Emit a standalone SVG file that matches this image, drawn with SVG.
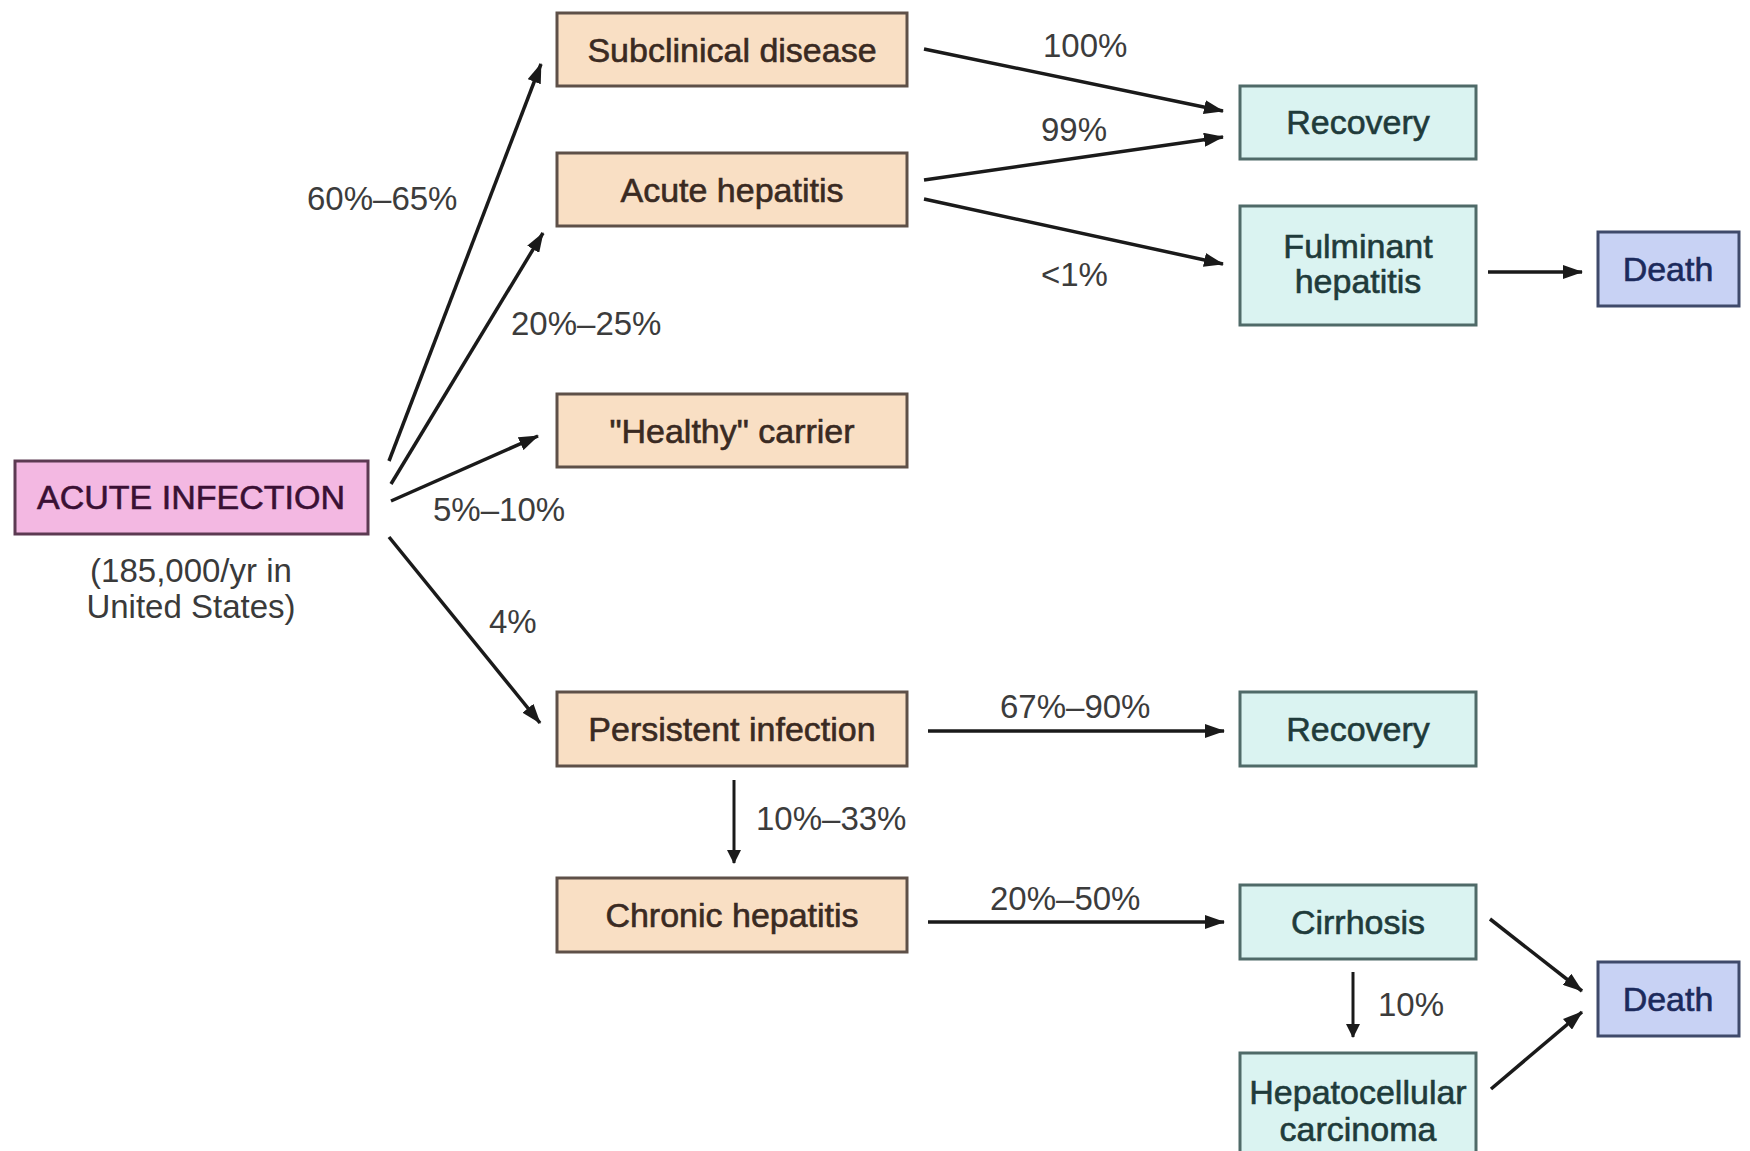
<svg xmlns="http://www.w3.org/2000/svg" width="1750" height="1151" viewBox="0 0 1750 1151">
<defs>
<marker id="ah" viewBox="0 0 20 14" refX="19" refY="7" markerWidth="20" markerHeight="14" markerUnits="userSpaceOnUse" orient="auto">
<path d="M0,0 L20,7 L0,14 z" fill="#1a1a1a"/>
</marker>
<marker id="ahs" viewBox="0 0 14 14" refX="13" refY="7" markerWidth="16" markerHeight="14" markerUnits="userSpaceOnUse" orient="auto">
<path d="M0,0 L14,7 L0,14 z" fill="#1a1a1a"/>
</marker>
</defs>
<style>
text{font-family:"Liberation Sans",Arial,sans-serif;}
.n text{font-size:34px;text-anchor:middle;stroke-width:0.6;}
.o rect{fill:#f9dfc4;stroke:#5e5048;stroke-width:3;}
.o text{fill:#3a2a22;stroke:#3a2a22;}
.c rect{fill:#daf3f1;stroke:#4f6a68;stroke-width:3;}
.c text{fill:#1f3b3b;stroke:#1f3b3b;}
.d rect{fill:#c8d2f4;stroke:#3f4a6a;stroke-width:3;}
.d text{fill:#1c2a5c;stroke:#1c2a5c;}
.p rect{fill:#f3b8e2;stroke:#5c3a52;stroke-width:3;}
.p text{fill:#3a1034;stroke:#3a1034;}
.lbl{font-size:33px;fill:#3c3c3c;}
.sub{font-size:33px;fill:#3a3a3a;text-anchor:middle;}
#connectors line{stroke:#1a1a1a;stroke-width:3.5;marker-end:url(#ah);}
#connectors line.thin{stroke-width:3;marker-end:url(#ahs);}
</style>
<rect width="1750" height="1151" fill="#ffffff"/>

<g id="connectors">
<line x1="389" y1="461" x2="541" y2="64"/>
<line x1="391" y1="484" x2="543" y2="233"/>
<line x1="391" y1="501" x2="538" y2="436"/>
<line x1="389" y1="537" x2="540" y2="723"/>
<line x1="924" y1="49" x2="1223" y2="111"/>
<line x1="924" y1="180" x2="1223" y2="137"/>
<line x1="924" y1="199" x2="1223" y2="264"/>
<line x1="1488" y1="272" x2="1582" y2="272"/>
<line x1="928" y1="731" x2="1224" y2="731"/>
<line x1="928" y1="922" x2="1224" y2="922"/>
<line x1="1490" y1="919" x2="1582" y2="991"/>
<line x1="1491" y1="1089" x2="1582" y2="1012"/>
<line class="thin" x1="734" y1="780" x2="734" y2="863"/>
<line class="thin" x1="1353" y1="972" x2="1353" y2="1037"/>
</g>

<g id="labels">
<text class="lbl" x="307" y="210">60%–65%</text>
<text class="lbl" x="511" y="335">20%–25%</text>
<text class="lbl" x="433" y="521">5%–10%</text>
<text class="lbl" x="489" y="633">4%</text>
<text class="lbl" x="1043" y="57">100%</text>
<text class="lbl" x="1041" y="141">99%</text>
<text class="lbl" x="1041" y="286">&lt;1%</text>
<text class="lbl" x="1000" y="718">67%–90%</text>
<text class="lbl" x="990" y="910">20%–50%</text>
<text class="lbl" x="756" y="830">10%–33%</text>
<text class="lbl" x="1378" y="1016">10%</text>
</g>

<g id="acute-infection" class="n p">
<rect x="15" y="461" width="353" height="73"/>
<text x="191" y="509">ACUTE INFECTION</text>
</g>
<text class="sub" x="191" y="582">(185,000/yr in</text>
<text class="sub" x="191" y="618">United States)</text>

<g id="subclinical" class="n o">
<rect x="557" y="13" width="350" height="73"/>
<text x="732" y="62">Subclinical disease</text>
</g>
<g id="acute-hepatitis" class="n o">
<rect x="557" y="153" width="350" height="73"/>
<text x="732" y="202">Acute hepatitis</text>
</g>
<g id="healthy-carrier" class="n o">
<rect x="557" y="394" width="350" height="73"/>
<text x="732" y="443">"Healthy" carrier</text>
</g>
<g id="persistent" class="n o">
<rect x="557" y="692" width="350" height="74"/>
<text x="732" y="741">Persistent infection</text>
</g>
<g id="chronic" class="n o">
<rect x="557" y="878" width="350" height="74"/>
<text x="732" y="927">Chronic hepatitis</text>
</g>

<g id="recovery1" class="n c">
<rect x="1240" y="86" width="236" height="73"/>
<text x="1358" y="134">Recovery</text>
</g>
<g id="fulminant" class="n c">
<rect x="1240" y="206" width="236" height="119"/>
<text x="1358" y="258">Fulminant</text>
<text x="1358" y="293">hepatitis</text>
</g>
<g id="death1" class="n d">
<rect x="1598" y="232" width="141" height="74"/>
<text x="1668" y="281">Death</text>
</g>
<g id="recovery2" class="n c">
<rect x="1240" y="692" width="236" height="74"/>
<text x="1358" y="741">Recovery</text>
</g>
<g id="cirrhosis" class="n c">
<rect x="1240" y="885" width="236" height="74"/>
<text x="1358" y="934">Cirrhosis</text>
</g>
<g id="death2" class="n d">
<rect x="1598" y="962" width="141" height="74"/>
<text x="1668" y="1011">Death</text>
</g>
<g id="hcc" class="n c">
<rect x="1240" y="1053" width="236" height="110"/>
<text x="1358" y="1104">Hepatocellular</text>
<text x="1358" y="1141">carcinoma</text>
</g>
</svg>
